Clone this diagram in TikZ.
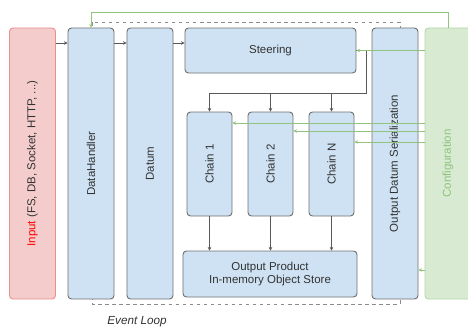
\documentclass[tikz,border=0pt]{standalone}
\usepackage{fontspec}
\setmainfont{Liberation Sans}
\usepackage{graphicx}
\usepackage{xcolor}
\usetikzlibrary{arrows.meta}
\definecolor{boxblue}{HTML}{CFE2F3}
\definecolor{boxline}{HTML}{707070}
\definecolor{inred}{HTML}{F4CCCC}
\definecolor{inline}{HTML}{EA9090}
\definecolor{cfggreen}{HTML}{D9EAD3}
\definecolor{cfgline}{HTML}{B6D7A8}
\definecolor{cfgtext}{HTML}{8CC47A}
\definecolor{garrow}{HTML}{93C47D}
\tikzstyle{box}=[draw=boxline, fill=boxblue, line width=0.8pt,
rounded corners=3pt,
font=\fontsize{9.8}{10.8}\selectfont,
text=black!80, align=center, inner sep=0pt]
\tikzstyle{tall}=[box, minimum width=1.38cm, minimum height=8.13cm]
\tikzstyle{chain}=[box, minimum width=1.35cm, minimum height=3.12cm]
\tikzstyle{arr}=[draw=black!65, line width=0.6pt, -{Stealth[length=3pt,width=3pt]}]
\tikzstyle{garr}=[draw=garrow, line width=0.6pt, -{Stealth[length=3pt,width=3pt]}]
\tikzstyle{evloop}=[draw=black!45, dashed, line width=0.6pt]

\begin{document}
\begin{tikzpicture}[x=0.03cm, y=-0.03cm]
\useasboundingbox (0,0) rectangle (468,329);

% event loop frame
\coordinate (el1) at (92,22);
\coordinate (el2) at (400,304);
\draw[evloop] (el1) rectangle (el2);
\node[font=\fontsize{10}{12}\selectfont\itshape, text=black!80] (el) at (137,322) {Event Loop};

\node[tall, draw=inline, fill=inred] (in) at (32.5,163.5) {\rotatebox{90}{\textcolor{red}{Input} (FS, DB, Socket, HTTP, ...)}};
\node[tall] (dh) at (91,163.5) {\rotatebox{90}{DataHandler}};
\node[tall] (dat) at (150,163.5) {\rotatebox{90}{Datum}};
\node[box, minimum width=5.13cm, minimum height=1.35cm] (st) at (270.5,50.5) {Steering};
\node[tall] (ods) at (395,163.5) {\rotatebox{90}{Output Datum Serialization}};
\node[tall, draw=cfgline, fill=cfggreen, text=cfgtext] (cfg) at (448,163.5) {\rotatebox{90}{Configuration}};

\node[chain] (c1) at (209.5,164) {\rotatebox{90}{Chain 1}};
\node[chain] (c2) at (270.5,164) {\rotatebox{90}{Chain 2}};
\node[chain] (cn) at (331.5,164) {\rotatebox{90}{Chain N}};

\node[box, minimum width=5.22cm, minimum height=1.38cm] (op) at (270,274) {Output Product\\In-memory Object Store};

\coordinate (row) at (0,43);
\draw[arr] (in.east |- row) -- (dh.west |- row);
\draw[arr] (dh.east |- row) -- (dat.west |- row);
\draw[arr] (dat.east |- row) -- (st.west |- row);

\coordinate (split) at (366,93);
\draw[arr] (st.east) -| (split) -| (c1.north);
\draw[arr] (split -| c2.north) -- (c2.north);
\draw[arr] (split -| cn.north) -- (cn.north);

\foreach \c in {c1,c2,cn}
  \draw[arr] (\c.south) -- (\c.south |- op.north);

%%%%%%%%%%%%%%%%%%%%%%%%%%%

\draw[garr] (cfg.west |- st.east) -- (st.east);
\draw[garr] (cfg.west |- 0,123) -- (c1.east |- 0,123);
\draw[garr] (cfg.west |- 0,131) -- (c2.east |- 0,131);
\draw[garr] (cfg.west |- 0,142) -- (cn.east |- 0,142);
\draw[garr] (cfg.west |- 0,270) -- (ods.east |- 0,270);
\draw[garr] (cfg.north) -- (cfg.north |- 0,12) -| (dh.north);

\end{tikzpicture}
\end{document}
